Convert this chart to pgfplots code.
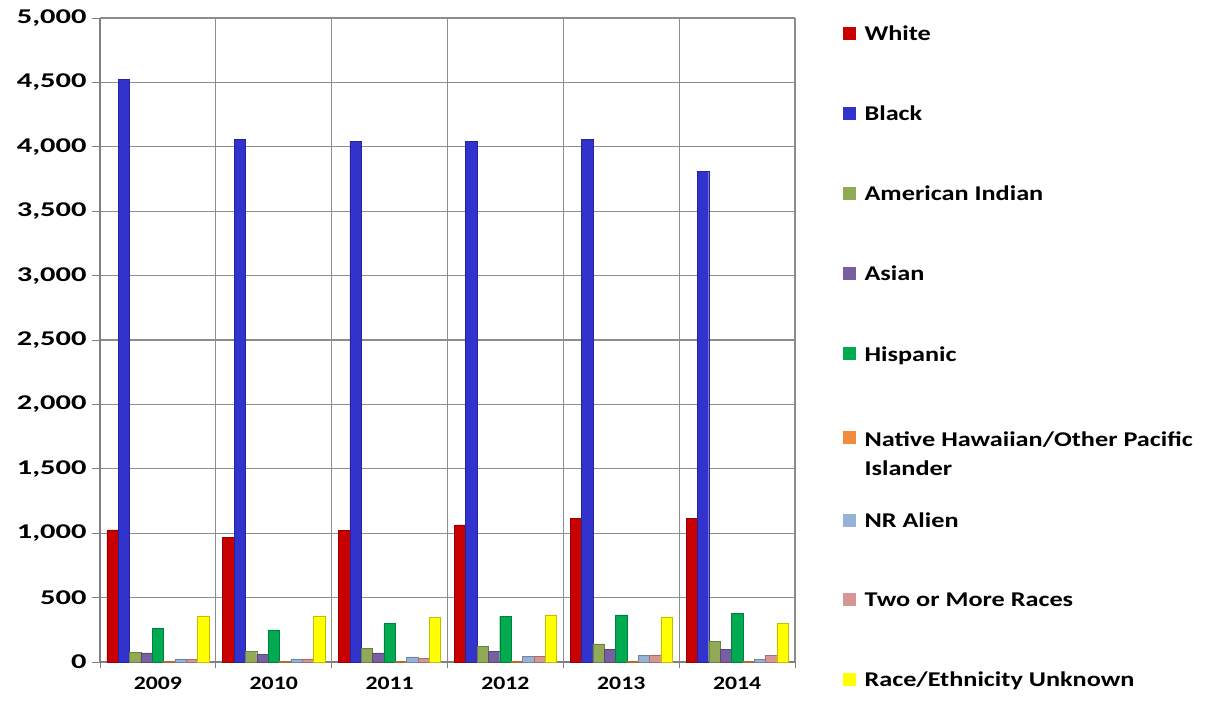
\documentclass[border=0pt]{standalone}
\usepackage{fontspec}
\setmainfont{Carlito}[FakeStretch=1.25]
\newfontfamily\tickfont{Carlito}[FakeStretch=1.45]
\usepackage{pgfplots}
\pgfplotsset{compat=1.18}
\definecolor{cW}{RGB}{200,0,0}
\definecolor{cB}{RGB}{50,50,205}
\definecolor{cA}{RGB}{145,170,85}
\definecolor{cS}{RGB}{120,95,160}
\definecolor{cH}{RGB}{0,170,80}
\definecolor{cN}{RGB}{240,140,60}
\definecolor{cR}{RGB}{150,178,215}
\definecolor{cT}{RGB}{215,150,150}
\definecolor{cU}{RGB}{255,255,0}
\begin{document}
\begin{tikzpicture}
\begin{axis}[
  scale only axis, width=695pt, height=644pt,
  xmin=-0.5, xmax=5.5, ymin=0, ymax=5000,
  ybar=0pt, bar width=0.098,
  xtick={0,...,5}, xticklabels={2009,2010,2011,2012,2013,2014},
  minor xtick={-0.5,0.5,...,5.5},
  xminorgrids, ymajorgrids,
  major x tick style={draw=none},
  minor x tick style={gray, line width=0.8pt},
  minor tick length=6pt,
  ytick={0,500,...,5000},
  major tick length=8pt,
  y tick style={gray, line width=0.8pt},
  tick align=outside,
  tick pos=left,
  xticklabel style={font=\fontsize{19}{23}\selectfont\bfseries, yshift=-4pt},
  yticklabel style={font=\fontsize{21}{25}\tickfont\bfseries, xshift=-2pt},
  /pgf/number format/1000 sep={,},
  /pgf/number format/assume math mode=true,
  grid style={gray!90, line width=1.1pt},
  minor grid style={gray!90, line width=1.1pt},
  axis line style={gray, line width=1.1pt},
  axis x line*=bottom, axis y line*=left,
  legend style={at={(1.065,0.995)}, anchor=north west, draw=none,
    font=\fontsize{21}{29}\selectfont\bfseries, row sep=60pt,
    cells={anchor=west}},
  legend image code/.code={\fill[#1,draw=none] (0pt,-6pt) rectangle (13pt,7pt); \path (19pt,0pt);},
]
\addplot[fill=cW, draw=cW!75!black] coordinates {(0,1025) (1,970) (2,1020) (3,1065) (4,1115) (5,1115)};
\addlegendentry{White}
\addplot[fill=cB, draw=cB!75!black] coordinates {(0,4525) (1,4060) (2,4045) (3,4045) (4,4060) (5,3810)};
\addlegendentry{Black}
\addplot[fill=cA, draw=cA!75!black] coordinates {(0,75) (1,85) (2,105) (3,120) (4,140) (5,160)};
\addlegendentry{American Indian}
\addplot[fill=cS, draw=cS!75!black] coordinates {(0,70) (1,60) (2,70) (3,80) (4,100) (5,100)};
\addlegendentry{Asian}
\addplot[fill=cH, draw=cH!75!black] coordinates {(0,260) (1,250) (2,300) (3,355) (4,365) (5,380)};
\addlegendentry{Hispanic}
\addplot[fill=cN, draw=cN!75!black] coordinates {(0,5) (1,5) (2,5) (3,5) (4,5) (5,5)};
\addlegendentry{\raisebox{0pt}[\height][0pt]{\begin{tabular}[t]{@{}l@{}}Native Hawaiian/Other Pacific\\Islander\end{tabular}}}
\addplot[fill=cR, draw=cR!75!black] coordinates {(0,25) (1,25) (2,40) (3,45) (4,50) (5,20)};
\addlegendentry{NR Alien}
\addplot[fill=cT, draw=cT!75!black] coordinates {(0,20) (1,25) (2,30) (3,45) (4,55) (5,50)};
\addlegendentry{Two or More Races}
\addplot[fill=cU, draw=cU!75!black] coordinates {(0,355) (1,355) (2,345) (3,365) (4,350) (5,300)};
\addlegendentry{Race/Ethnicity Unknown}
\end{axis}
\path (current axis.south west) ++(-100pt,-51pt) rectangle ++(1211pt,713pt);
\end{tikzpicture}
\end{document}
